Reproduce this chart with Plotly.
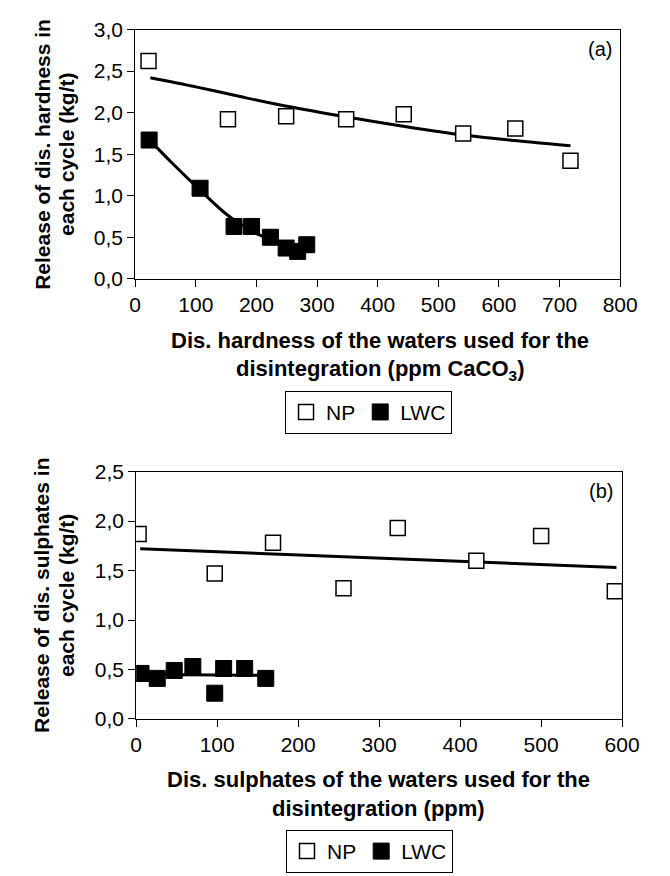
import plotly.graph_objects as go

# ---- Panel (a): dissolved hardness ----
np_hard_x = [22, 153, 249, 348, 443, 541, 627, 718]
np_hard_y = [2.62, 1.92, 1.955, 1.92, 1.98, 1.75, 1.81, 1.42]
lwc_hard_x = [23, 107, 163, 192, 223, 249, 268, 283]
lwc_hard_y = [1.67, 1.09, 0.63, 0.63, 0.50, 0.37, 0.33, 0.41]
np_hard_fit_x = [25, 100, 175, 248, 347, 439, 541, 630, 718]
np_hard_fit_y = [2.42, 2.31, 2.19, 2.08, 1.95, 1.84, 1.73, 1.66, 1.60]
lwc_hard_fit_x = [25, 60, 108, 145, 161, 203, 245, 283]
lwc_hard_fit_y = [1.66, 1.40, 1.06, 0.81, 0.72, 0.535, 0.43, 0.38]

# ---- Panel (b): dissolved sulphates ----
np_sulf_x = [3, 97, 169, 256, 323, 420, 500, 591]
np_sulf_y = [1.87, 1.47, 1.78, 1.32, 1.93, 1.60, 1.85, 1.29]
lwc_sulf_x = [6, 26, 47, 70, 97, 108, 134, 160]
lwc_sulf_y = [0.46, 0.41, 0.49, 0.53, 0.26, 0.51, 0.51, 0.41]
np_sulf_fit_x = [5, 593]
np_sulf_fit_y = [1.72, 1.53]
lwc_sulf_fit_x = [3, 160]
lwc_sulf_fit_y = [0.45, 0.44]

yticks_a = [0, 0.5, 1.0, 1.5, 2.0, 2.5, 3.0]
yticks_b = [0, 0.5, 1.0, 1.5, 2.0, 2.5]
xticks_a = [0, 100, 200, 300, 400, 500, 600, 700, 800]
xticks_b = [0, 100, 200, 300, 400, 500, 600]

W, H = 670, 876
FONT = "Liberation Sans, Arial, sans-serif"

fig = go.Figure()

def add_panel(fig, xa, ya, npx, npy, lwx, lwy, fnx, fny, flx, fly, legend):
    fig.add_trace(go.Scatter(x=fnx, y=fny, mode="lines", line=dict(color="black", width=3, shape="spline"),
                             xaxis=xa, yaxis=ya, showlegend=False, hoverinfo="skip"))
    fig.add_trace(go.Scatter(x=flx, y=fly, mode="lines", line=dict(color="black", width=3, shape="spline"),
                             xaxis=xa, yaxis=ya, showlegend=False, hoverinfo="skip"))
    fig.add_trace(go.Scatter(x=npx, y=npy, mode="markers", name="NP",
                             marker=dict(symbol="square", size=15, color="white",
                                         line=dict(color="black", width=1.5)),
                             xaxis=xa, yaxis=ya, legend=legend))
    fig.add_trace(go.Scatter(x=lwx, y=lwy, mode="markers", name="LWC",
                             marker=dict(symbol="square", size=16, color="black",
                                         line=dict(color="black", width=1)),
                             xaxis=xa, yaxis=ya, legend=legend))

add_panel(fig, "x", "y", np_hard_x, np_hard_y, lwc_hard_x, lwc_hard_y,
          np_hard_fit_x, np_hard_fit_y, lwc_hard_fit_x, lwc_hard_fit_y, "legend")
add_panel(fig, "x2", "y2", np_sulf_x, np_sulf_y, lwc_sulf_x, lwc_sulf_y,
          np_sulf_fit_x, np_sulf_fit_y, lwc_sulf_fit_x, lwc_sulf_fit_y, "legend2")

def px_x(p):
    return p / W

def px_y(p):
    return 1 - p / H

axis_common = dict(showline=True, linecolor="black", linewidth=1, mirror=True,
                   ticks="outside", ticklen=7, tickcolor="black", tickwidth=1,
                   showgrid=False, zeroline=False,
                   tickfont=dict(family=FONT, size=21, color="black"))

leg_common = dict(orientation="h", xanchor="center", yanchor="top",
                  bordercolor="black", borderwidth=1, bgcolor="white",
                  font=dict(family=FONT, size=21, color="black"),
                  itemwidth=30, tracegroupgap=0)

fig.update_layout(
    width=W, height=H,
    margin=dict(l=0, r=0, t=0, b=0),
    paper_bgcolor="white", plot_bgcolor="white",
    separators=",.",
    font=dict(family=FONT, color="black"),
    xaxis=dict(domain=[px_x(134), px_x(637)], range=[0, 800], tickvals=xticks_a,
               anchor="y", **axis_common),
    yaxis=dict(domain=[px_y(274), px_y(18)], range=[0, 3.0], tickvals=yticks_a,
               tickformat=".1f", anchor="x", **axis_common),
    xaxis2=dict(domain=[px_x(135), px_x(639)], range=[0, 600], tickvals=xticks_b,
                anchor="y2", **axis_common),
    yaxis2=dict(domain=[px_y(726), px_y(472)], range=[0, 2.5], tickvals=yticks_b,
                tickformat=".1f", anchor="x2", **axis_common),
    legend=dict(x=px_x(376), y=px_y(389), **leg_common),
    legend2=dict(x=px_x(377), y=px_y(840), **leg_common),
)

ann = []
def text(x, y, t, size=22, bold=True, angle=0):
    ann.append(dict(xref="paper", yref="paper", x=px_x(x), y=px_y(y), text=(f"<b>{t}</b>" if bold else t),
                    showarrow=False, xanchor="center", yanchor="middle", textangle=angle,
                    font=dict(family=FONT, size=size, color="black")))

# x titles
text(388, 337, "Dis. hardness of the waters used for the")
text(388, 368, "disintegration (ppm CaCO<sub>3</sub>)")
text(386, 788, "Dis. sulphates of the waters used for the")
text(386, 818, "disintegration (ppm)")
# y titles
text(37, 146, "Release of dis. hardness in", size=21, angle=-90)
text(62, 146, "each cycle (kg/t)", size=21, angle=-90)
text(37, 599, "Release of dis. sulphates in", size=21, angle=-90)
text(62, 599, "each cycle (kg/t)", size=21, angle=-90)
# panel labels
text(616, 38, "(a)", size=20, bold=False)
text(617, 492, "(b)", size=20, bold=False)

fig.update_layout(annotations=ann)

fig.write_html("out.html")
